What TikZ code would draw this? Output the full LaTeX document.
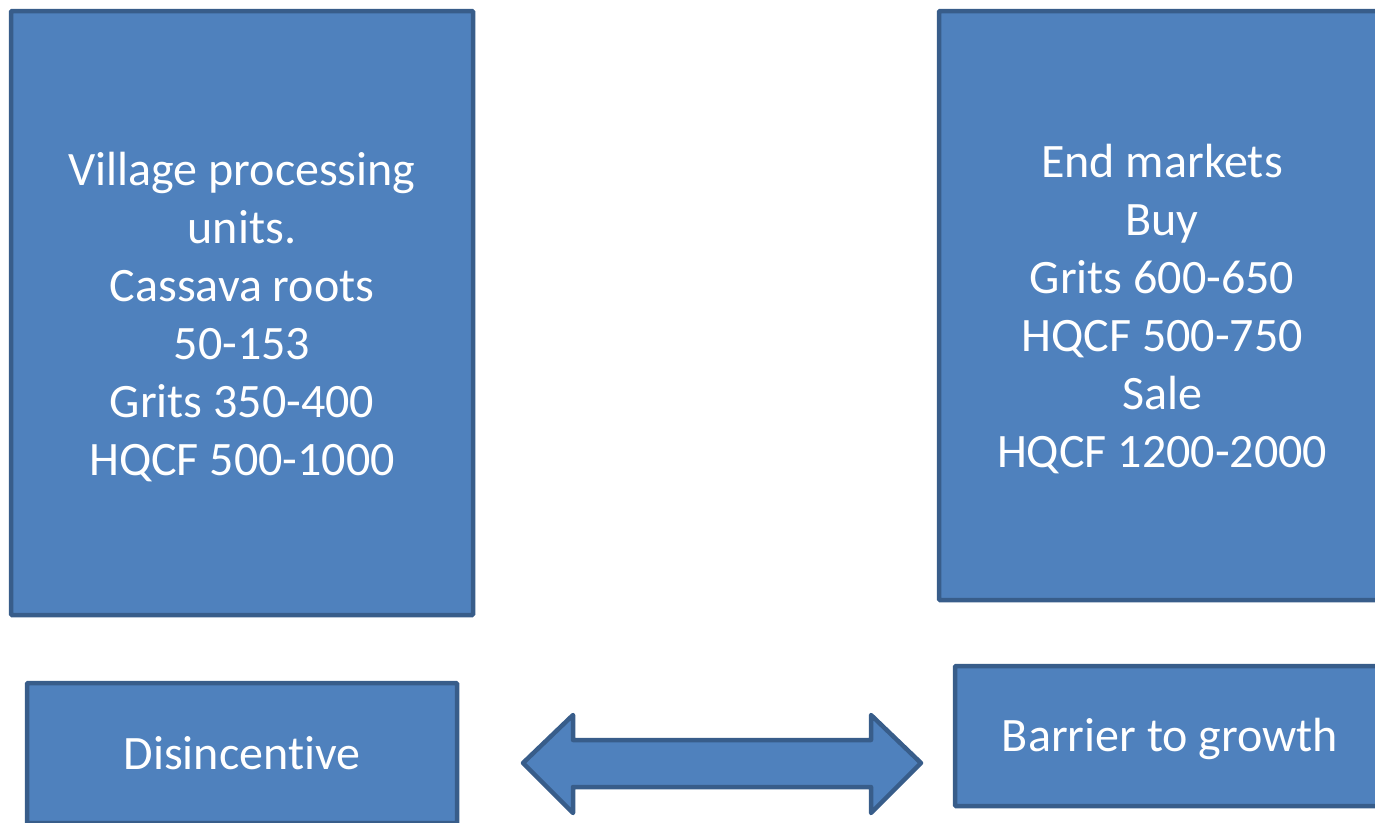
\documentclass[tikz,border=0pt]{standalone}
\usepackage{fontspec}
\setmainfont[Ligatures=NoCommon]{Carlito}
\definecolor{boxfill}{HTML}{4F81BD}
\definecolor{boxline}{HTML}{385D8A}
\tikzset{
  panel/.style={draw=boxline, fill=boxfill, line width=4.5pt, rounded corners=1pt,
    inner sep=0pt},
  paneltext/.style={text=white, align=center, inner sep=0pt,
    font=\fontsize{48}{58}\selectfont},
  bigarrow/.style={draw=boxline, fill=boxfill, line width=4.5pt, line join=round}
}
\begin{document}
\begin{tikzpicture}[x=1pt,y=-1pt]
\useasboundingbox (0,0) rectangle (1375,822);
\clip (0,0) rectangle (1375,822);
\node[panel, minimum width=462pt, minimum height=604pt] (village) at (242,313) {};
\node[paneltext] (villagetext) at ([yshift=-4pt]village.center)
  {Village processing\\units.\\Cassava roots\\50-153\\Grits 350-400\\HQCF 500-1000};
\node[panel, minimum width=446pt, minimum height=589pt] (market) at (1162,305.5) {};
\node[paneltext] (markettext) at ([yshift=-4pt]market.center)
  {End markets\\Buy\\Grits 600-650\\HQCF 500-750\\Sale\\HQCF 1200-2000};
\node[panel, minimum width=430pt, minimum height=140pt] (disinc) at (242,753) {};
\node[paneltext] (disinctext) at (disinc.center) {Disincentive};
\node[panel, minimum width=430pt, minimum height=140pt] (barrier) at (1170,736) {};
\node[paneltext] (barriertext) at ([yshift=-3pt]barrier.center) {Barrier to growth};
\draw[bigarrow] (523,763) -- (573,715) -- (573,740) -- (871,740) -- (871,715)
  -- (921,763) -- (871,813) -- (871,787) -- (573,787) -- (573,813) -- cycle;
\end{tikzpicture}
\end{document}
